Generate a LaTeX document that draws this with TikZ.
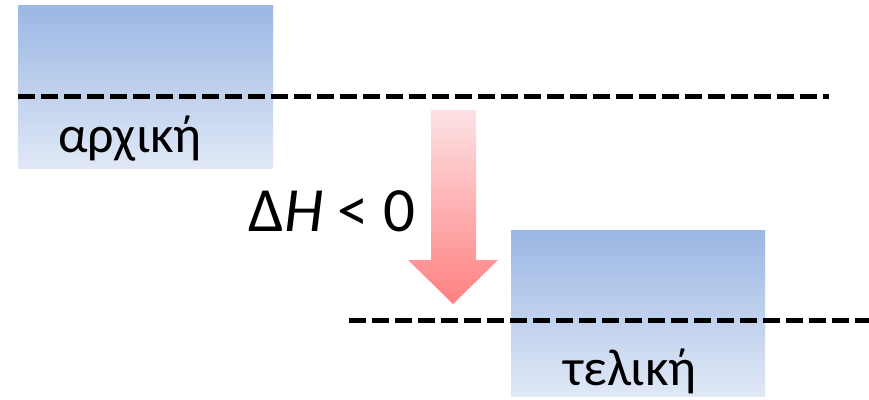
\documentclass[tikz,border=0pt]{standalone}
\usepackage{fontspec}
\setmainfont{Carlito}
\begin{document}
\begin{tikzpicture}[x=1pt,y=-1pt,
  level/.style={draw=none,top color=blue1,bottom color=blue2,minimum width=255pt,inner sep=0pt,anchor=north west},
  dashline/.style={line width=5pt,dash pattern=on 17pt off 6pt},
  lbl/.style={font=\fontsize{52}{54}\selectfont,anchor=base,inner sep=0pt}]
\definecolor{blue1}{RGB}{155,183,228}
\definecolor{blue2}{RGB}{224,232,246}
\definecolor{pink1}{RGB}{253,226,229}
\definecolor{pink2}{RGB}{255,128,128}
\useasboundingbox (0,0) rectangle (869,399);
\fill[white] (0,0) rectangle (869,399);
% levels
\node[level,minimum height=163pt] (init) at (18,5) {};
\node[level,minimum height=166pt,minimum width=254pt] (fin) at (511,230) {};
% dashed levels
\coordinate (a1) at (18,96);
\coordinate (a2) at (829,96);
\coordinate (b1) at (349,320);
\coordinate (b2) at (869,320);
\draw[dashline] (a1) -- (a2);
\draw[dashline] (b1) -- (b2);
% labels
\node[lbl] (tinit) at (130,152) {αρχική};
\node[lbl] (tfin) at (630,385) {τελική};
\node[font=\fontsize{63}{65}\selectfont,anchor=base,inner sep=0pt] (dh) at (332,231) {Δ\textit{H} < 0};
% arrow
\shade[top color=pink1,bottom color=pink2] (431,110) -- (476,110) -- (476,260) -- (498,260) -- (453,304) -- (408,260) -- (431,260) -- cycle;
\end{tikzpicture}
\end{document}
